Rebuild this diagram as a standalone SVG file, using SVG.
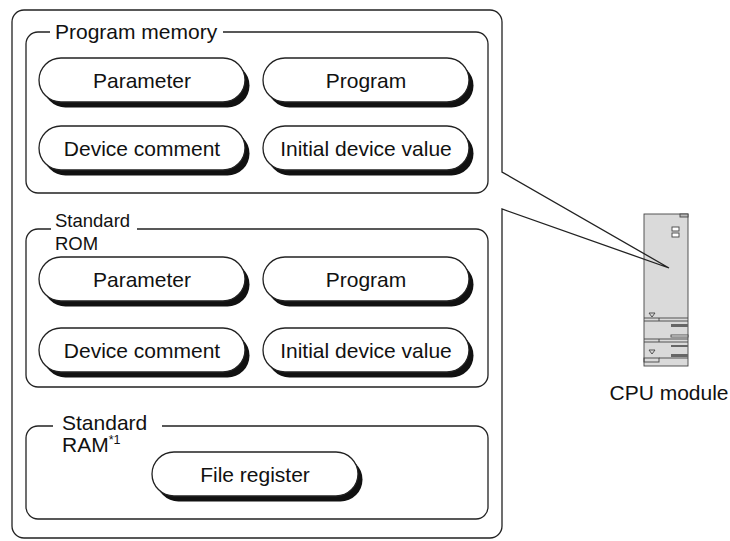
<svg xmlns="http://www.w3.org/2000/svg" width="730" height="541" viewBox="0 0 730 541">
  <style>
    text { font-family: "Liberation Sans", Arial, sans-serif; fill: #111; }
    .lbl { font-size: 21px; }
    .small { font-size: 18.5px; }
    .pill text { font-size: 21px; text-anchor: middle; }
    .frame { fill: none; stroke: #222; stroke-width: 1.3; }
    .pillbody { fill: #fff; stroke: #222; stroke-width: 1.3; }
    .pillshadow { fill: #111; }
    .mod { stroke: #444; stroke-width: 0.9; }
  </style>
  <defs>
    <!-- raised rounded button: shadow + face -->
    <symbol id="pill206" overflow="visible">
      <rect class="pillshadow" x="4.5" y="5.5" width="206" height="44" rx="22"/>
      <rect class="pillbody" x="0" y="0" width="206" height="44" rx="22"/>
    </symbol>
  </defs>

  <!-- CPU module -->
  <g id="cpu-module">
    <rect class="mod" x="644" y="214" width="44" height="152" fill="#dadada"/>
    <rect class="mod" x="680" y="214" width="8" height="3" fill="#bbb"/>
    <rect class="mod" x="672" y="227" width="7" height="4" fill="#fff"/>
    <rect class="mod" x="672" y="233" width="7" height="4" fill="#fff"/>
    <line class="mod" x1="644" y1="318" x2="688" y2="318"/>
    <line class="mod" x1="644" y1="321" x2="688" y2="321"/>
    <line class="mod" x1="659" y1="318" x2="659" y2="321"/>
    <polygon class="mod" points="649,313 655,313 652,317" fill="none"/>
    <rect x="671" y="324" width="17" height="3" fill="#666"/>
    <rect class="mod" x="671" y="335" width="17" height="2" fill="#fff"/>
    <line class="mod" x1="644" y1="339" x2="688" y2="339"/>
    <line class="mod" x1="644" y1="342" x2="688" y2="342"/>
    <line class="mod" x1="659" y1="339" x2="659" y2="342"/>
    <rect x="671" y="345" width="17" height="2" fill="#666"/>
    <polygon class="mod" points="649,350 655,350 652,354" fill="none"/>
    <rect x="671" y="354" width="17" height="3" fill="#666"/>
    <line class="mod" x1="659" y1="358" x2="688" y2="358"/>
    <rect class="mod" x="644" y="358" width="15" height="4" fill="none"/>
    <text x="669" y="400" class="lbl" text-anchor="middle">CPU module</text>
  </g>

  <!-- outer memory frame with callout to the module -->
  <g id="cpu-memory">
    <path class="frame" d="M24,10 H490 A12,12 0 0 1 502,22 V172 L669,268 L502,209 V526 A12,12 0 0 1 490,538 H24 A12,12 0 0 1 12,526 V22 A12,12 0 0 1 24,10 Z"/>
  </g>

  <!-- Program memory -->
  <g id="program-memory">
    <path class="frame" d="M50,32 H38 A12,12 0 0 0 26,44 V181 A12,12 0 0 0 38,193 H476 A12,12 0 0 0 488,181 V44 A12,12 0 0 0 476,32 H223"/>
    <text x="55" y="39" class="lbl">Program memory</text>
  </g>
  <g id="pm-parameter" class="pill">
    <use href="#pill206" x="39" y="58"/>
    <text x="142" y="87.5">Parameter</text>
  </g>
  <g id="pm-program" class="pill">
    <use href="#pill206" x="263" y="58"/>
    <text x="366" y="87.5">Program</text>
  </g>
  <g id="pm-device-comment" class="pill">
    <use href="#pill206" x="39" y="126"/>
    <text x="142" y="155.5">Device comment</text>
  </g>
  <g id="pm-initial-value" class="pill">
    <use href="#pill206" x="263" y="126"/>
    <text x="366" y="155.5">Initial device value</text>
  </g>

  <!-- Standard ROM -->
  <g id="standard-rom">
    <path class="frame" d="M51,229 H38 A12,12 0 0 0 26,241 V375 A12,12 0 0 0 38,387 H476 A12,12 0 0 0 488,375 V241 A12,12 0 0 0 476,229 H137"/>
    <text x="55" y="227" class="small">Standard</text>
    <text x="55" y="250" class="small">ROM</text>
  </g>
  <g id="rom-parameter" class="pill">
    <use href="#pill206" x="39" y="257"/>
    <text x="142" y="286.5">Parameter</text>
  </g>
  <g id="rom-program" class="pill">
    <use href="#pill206" x="263" y="257"/>
    <text x="366" y="286.5">Program</text>
  </g>
  <g id="rom-device-comment" class="pill">
    <use href="#pill206" x="39" y="328"/>
    <text x="142" y="357.5">Device comment</text>
  </g>
  <g id="rom-initial-value" class="pill">
    <use href="#pill206" x="263" y="328"/>
    <text x="366" y="357.5">Initial device value</text>
  </g>

  <!-- Standard RAM -->
  <g id="standard-ram">
    <path class="frame" d="M53,426 H38 A12,12 0 0 0 26,438 V507 A12,12 0 0 0 38,519 H476 A12,12 0 0 0 488,507 V438 A12,12 0 0 0 476,426 H162"/>
    <text x="62" y="430" class="lbl">Standard</text>
    <text x="62" y="452" class="lbl">RAM<tspan font-size="12.5" dy="-8">*1</tspan></text>
  </g>
  <g id="ram-file-register" class="pill">
    <use href="#pill206" x="152" y="452"/>
    <text x="255" y="481.5">File register</text>
  </g>
</svg>
